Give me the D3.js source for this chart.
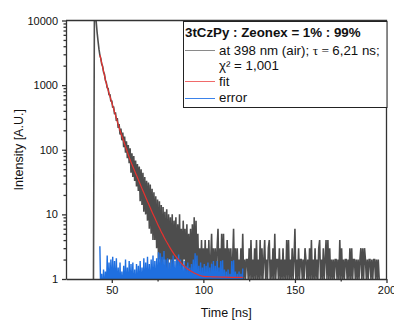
<!DOCTYPE html>
<html>
<head>
<meta charset="utf-8">
<script src="https://cdn.jsdelivr.net/npm/d3@7/dist/d3.min.js"></script>
<style>
  body { margin: 0; background: #fff; }
  svg { display: block; font-family: "Liberation Sans", Arial, sans-serif; }
</style>
</head>
<body>
<div id="chart"></div>
<script>
// TCSPC decay, channels every 0.5 ns starting at 40 ns
var channelStart = 40;
var channelWidth = 0.5;

// 40 - 43.5 ns
var countsRise = [1, 11000, 12000, 9500, 6500, 4800, 3600, 2900];

// 44 - 96.5 ns
var countsDecay = [
  2600, 2120, 1960, 1590, 1470, 1190, 1100, 910, 890, 700,
  720, 560, 575, 450, 465, 355, 380, 280, 310, 218,
  250, 172, 212, 140, 185, 110, 160, 90, 135, 74,
  118, 62, 105, 44, 88, 38, 80, 33, 68, 27,
  60, 23, 55, 16, 50, 14, 44, 11, 38, 10,
  33, 8, 31, 6, 29, 5, 25, 4, 22, 4,
  19, 3, 17, 2, 16, 2, 14, 1, 13, 2,
  11, 1, 12, 1, 10, 2, 9, 1, 10, 1,
  8, 2, 9, 1, 7, 1, 10, 1, 6, 1,
  8, 2, 6, 1, 7, 1, 5, 1, 6, 1,
  7, 1, 9, 1, 8, 1
];

// 97 - 196 ns
var countsTail = [
  5, 1, 3, 1, 4, 1, 3, 1, 4, 1,
  3, 1, 4, 1, 2, 5, 1, 3, 1, 3,
  1, 3, 6, 1, 3, 1, 5, 1, 5, 1,
  3, 1, 4, 1, 3, 1, 3, 1, 2, 6,
  1, 3, 1, 3, 1, 2, 1, 3, 1, 5,
  1, 2, 1, 2, 2, 1, 3, 1, 4, 1,
  2, 1, 3, 1, 4, 1, 2, 1, 4, 1,
  3, 1, 2, 4, 1, 2, 1, 3, 4, 1,
  2, 1, 3, 1, 5, 1, 2, 2, 1, 3,
  1, 2, 1, 3, 1, 2, 1, 4, 1, 4,
  1, 2, 1, 3, 1, 2, 6, 1, 2, 1,
  3, 1, 2, 2, 1, 2, 1, 3, 2, 1,
  2, 1, 3, 1, 4, 1, 2, 1, 3, 1,
  2, 1, 3, 4, 1, 2, 1, 3, 1, 2,
  4, 1, 4, 1, 3, 1, 2, 1, 2, 1,
  2, 2, 1, 2, 1, 4, 1, 3, 1, 2,
  1, 2, 2, 1, 2, 1, 3, 1, 3, 1,
  2, 2, 1, 2, 1, 2, 1, 2, 3, 1,
  3, 1, 3, 2, 1, 2, 1, 2, 2, 1,
  2, 1, 2, 2, 1, 2, 1, 2, 1
];

// fit curve
var fitTimes = [43.5, 44, 45, 46, 47, 48, 49, 50, 51, 52, 53, 54, 55, 56, 57, 58, 59, 60,
  61, 62, 63, 64, 65, 66, 67, 68, 69, 70, 71, 72, 73, 74, 75, 76, 77, 78, 79, 80,
  82, 84, 86, 88, 90, 92, 95, 100, 105, 110, 115, 121.5];
var fitValues = [2930, 2535, 1897, 1419, 1062, 837, 670, 537, 430, 344, 275, 221, 180, 149, 123, 102, 84, 70,
  59.5, 50.8, 43.4, 37.1, 31.7, 27.1, 23.2, 19.9, 17.1, 14.7, 12.7, 10.9, 9.45, 8.2, 7.1, 6.2, 5.4, 4.77, 4.2, 3.73,
  2.98, 2.43, 2.04, 1.75, 1.54, 1.39, 1.24, 1.1, 1.08, 1.07, 1.06, 1.06];

// error (residuals), 43.5 - 121.5 ns
var errorStart = 43.5;
var errorValues = [
  3.2, 0.5, 1.2, 0.5, 1.4, 0.5, 1.3, 0.5, 2.3, 0.5,
  1.8, 0.5, 2.0, 0.5, 2.2, 0.5, 1.9, 0.5, 2.1, 0.5,
  1.5, 0.5, 1.8, 0.5, 1.3, 0.5, 1.6, 0.5, 2.0, 0.5,
  1.5, 0.5, 1.9, 0.5, 1.7, 0.5, 1.8, 0.5, 1.4, 0.5,
  1.7, 0.5, 1.6, 0.5, 1.9, 0.5, 1.5, 0.5, 2.1, 0.5,
  1.8, 0.5, 2.2, 0.5, 1.7, 0.5, 2.0, 0.5, 2.3, 0.5,
  1.9, 0.5, 2.1, 0.5, 2.6, 0.5, 2.5, 0.5, 2.2, 0.5,
  2.7, 0.5, 2.0, 0.5, 2.1, 0.5, 1.8, 0.5, 2.0, 0.5,
  2.3, 0.5, 1.9, 0.5, 2.1, 0.5, 2.4, 0.5, 2.0, 0.5,
  1.7, 0.5, 1.9, 0.5, 1.6, 0.5, 1.8, 0.5, 1.5, 0.5,
  1.7, 0.5, 2.0, 0.5, 2.5, 0.5, 2.3, 0.5, 1.6, 0.5,
  1.8, 0.5, 1.5, 0.5, 1.7, 0.5, 1.6, 0.5, 1.8, 0.5,
  1.5, 0.5, 1.7, 0.5, 1.9, 0.5, 1.6, 0.5, 1.9, 0.5,
  1.5, 0.5, 1.9, 0.5, 1.95, 0.5, 1.4, 0.5, 1.3, 0.5,
  1.4, 0.5, 1.2, 0.5, 1.9, 0.5, 1.95, 0.5, 1.3, 0.5,
  1.2, 0.5, 1.3, 0.5, 1.2, 0.5, 1.45
];

var xTicks = [50, 100, 150, 200];
var xMinorTicks = [75, 125, 175];
var yTicks = [1, 10, 100, 1000, 10000];

var legendTitle = '3tCzPy : Zeonex = 1% : 99%';

(function () {
  'use strict';

  var width = 394, height = 324;
  var plotLeft = 66, plotRight = 386.5, plotTop = 20.5, plotBottom = 279;

  var svg = d3.select('#chart').append('svg')
      .attr('width', width)
      .attr('height', height);

  var x = d3.scaleLinear().domain([25, 200]).range([plotLeft, plotRight]);
  var y = d3.scaleLog().domain([1, 10000]).range([plotBottom, plotTop]);

  svg.append('clipPath').attr('id', 'plotClip')
    .append('rect')
      .attr('x', plotLeft).attr('y', plotTop)
      .attr('width', plotRight - plotLeft).attr('height', plotBottom - plotTop);

  var counts = countsRise.concat(countsDecay, countsTail);
  var dataPts = counts.map(function(c, i) { return [channelStart + i * channelWidth, c]; });
  var errPts = errorValues.map(function(v, i) { return [errorStart + i * channelWidth, v]; });
  var fitPts = fitTimes.map(function(t, i) { return [t, fitValues[i]]; });

  var line = d3.line()
      .x(function(d) { return x(d[0]); })
      .y(function(d) { return y(d[1]); });

  var plot = svg.append('g').attr('clip-path', 'url(#plotClip)');

  plot.append('path')
      .attr('d', line(dataPts))
      .attr('fill', 'none')
      .attr('stroke', '#4d4d4d')
      .attr('stroke-width', 1.6)
      .attr('stroke-linejoin', 'miter')
      .attr('stroke-miterlimit', 2);

  plot.append('path')
      .attr('d', line(errPts))
      .attr('fill', 'none')
      .attr('stroke', '#1f6fe0')
      .attr('stroke-width', 1.4)
      .attr('stroke-miterlimit', 2);

  plot.append('path')
      .attr('d', line.curve(d3.curveMonotoneX)(fitPts))
      .attr('fill', 'none')
      .attr('stroke', '#e8312f')
      .attr('stroke-width', 1.2);

  // axes
  var axisColor = '#333';

  svg.append('g')
      .attr('transform', 'translate(0,' + plotBottom + ')')
      .call(d3.axisBottom(x).tickValues(xTicks).tickSize(4).tickSizeOuter(0).tickPadding(3));
  svg.append('g')
      .attr('transform', 'translate(0,' + plotBottom + ')')
      .call(d3.axisBottom(x).tickValues(xMinorTicks).tickSize(2.5).tickFormat(''))
      .select('.domain').remove();

  var yMinor = [];
  yTicks.slice(0, -1).forEach(function(t) {
    for (var k = 2; k < 10; k++) yMinor.push(t * k);
  });

  svg.append('g')
      .attr('transform', 'translate(' + plotLeft + ',0)')
      .call(d3.axisLeft(y).tickValues(yTicks).tickFormat(d3.format('d')).tickSize(4).tickSizeOuter(0).tickPadding(4));
  svg.append('g')
      .attr('transform', 'translate(' + plotLeft + ',0)')
      .call(d3.axisLeft(y).tickValues(yMinor).tickFormat('').tickSize(2.5))
      .select('.domain').remove();

  svg.selectAll('.tick line, .domain')
      .attr('stroke', axisColor)
      .attr('stroke-width', 1.3);
  svg.selectAll('.tick text')
      .attr('fill', '#111')
      .style('font-size', '11px')
      .style('font-family', '"Liberation Sans", Arial, sans-serif');

  // frame top / right
  svg.append('path')
      .attr('d', 'M' + plotLeft + ',' + plotTop + 'H' + plotRight + 'V' + plotBottom)
      .attr('fill', 'none')
      .attr('stroke', axisColor)
      .attr('stroke-width', 1.3);

  // axis titles
  svg.append('text')
      .attr('x', (plotLeft + plotRight) / 2)
      .attr('y', 316.5)
      .attr('text-anchor', 'middle')
      .style('font-size', '12.5px')
      .attr('fill', '#111')
      .text('Time [ns]');

  svg.append('text')
      .attr('transform', 'translate(23,' + ((plotTop + plotBottom) / 2) + ') rotate(-90)')
      .attr('text-anchor', 'middle')
      .style('font-size', '12.5px')
      .attr('fill', '#111')
      .text('Intensity [A.U.]');

  // legend
  var legend = svg.append('g');
  legend.append('rect')
      .attr('x', 183.5).attr('y', 21.5)
      .attr('width', 203.5).attr('height', 86)
      .attr('fill', '#fff')
      .attr('stroke', '#222')
      .attr('stroke-width', 1);

  legend.append('text')
      .attr('x', 185).attr('y', 36.5)
      .style('font-size', '13.3px')
      .style('font-weight', 'bold')
      .attr('fill', '#111')
      .text(legendTitle);

  var rows = [
    { y: 50.5, color: '#8a8a8a' },
    { y: 81.5, color: '#f06a6a' },
    { y: 98.5, color: '#3b82ea' }
  ];
  legend.selectAll('line.sample').data(rows).enter()
    .append('line')
      .attr('class', 'sample')
      .attr('x1', 185).attr('x2', 215)
      .attr('y1', function(d) { return d.y; })
      .attr('y2', function(d) { return d.y; })
      .attr('stroke', function(d) { return d.color; })
      .attr('stroke-width', 1);

  var t1 = legend.append('text')
      .attr('x', 219).attr('y', 54.5)
      .style('font-size', '13.3px')
      .attr('fill', '#111');
  t1.append('tspan').text('at 398 nm (air); ');
  t1.append('tspan').style('font-family', '"Liberation Serif", serif').text('\u03c4 = ');
  t1.append('tspan').text('6,21 ns;');

  legend.append('text')
      .attr('x', 219).attr('y', 69.5)
      .style('font-size', '13.3px')
      .attr('fill', '#111')
      .text('\u03c7\u00b2 = 1,001');

  legend.append('text')
      .attr('x', 219).attr('y', 86)
      .style('font-size', '13.3px')
      .attr('fill', '#111')
      .text('fit');

  legend.append('text')
      .attr('x', 219).attr('y', 101.5)
      .style('font-size', '13.3px')
      .attr('fill', '#111')
      .text('error');
})();
</script>
</body>
</html>
